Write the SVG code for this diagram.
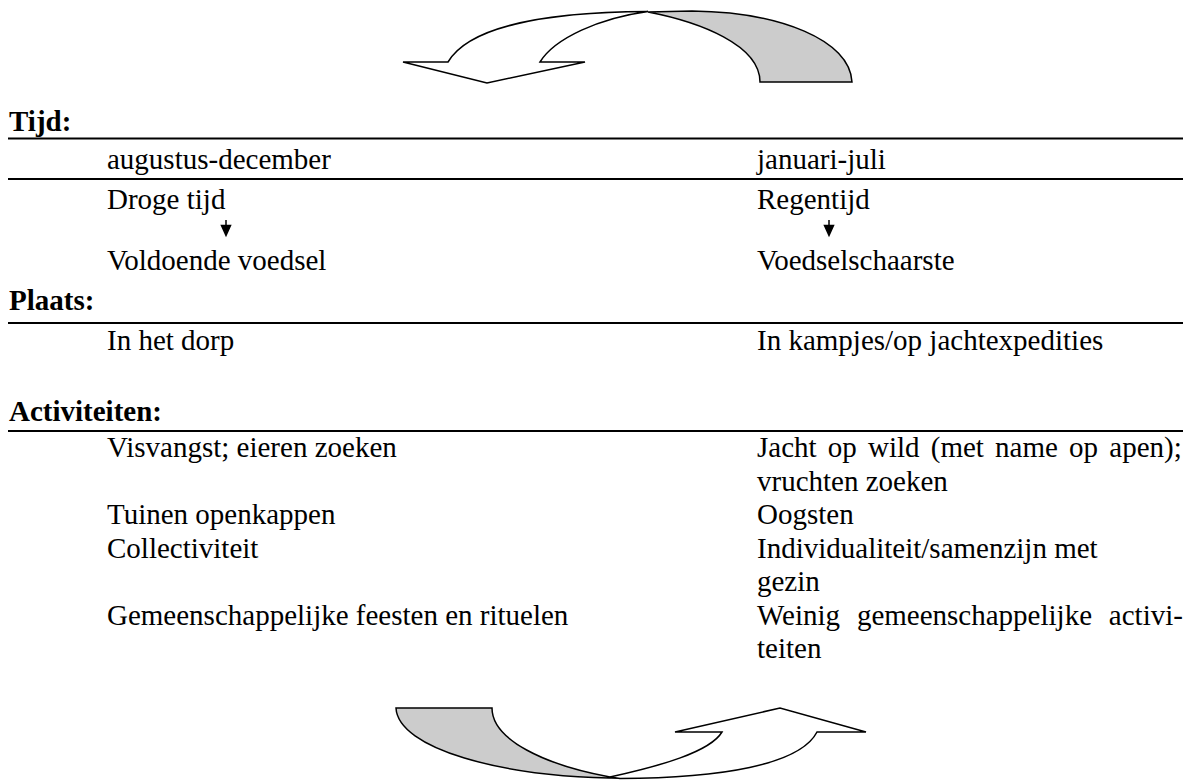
<svg xmlns="http://www.w3.org/2000/svg" width="1192" height="780" viewBox="0 0 1192 780">
<style>
.t{font-family:'Liberation Serif','Times New Roman',Times,serif;font-size:29px;fill:#000}
.b{font-weight:bold}
.rule{stroke:#000;stroke-width:2;fill:none}
.outline{stroke:#000;stroke-width:1.5;stroke-linejoin:miter}
.white{fill:#fff}
.gray{fill:#cccccc}
.small{fill:#000;stroke:#000;stroke-width:1.5}
</style>
<rect width="1192" height="780" fill="#fff"/>
<g id="top-arrow">
<path class="outline gray" d="M648,12 L692,11 C780,12 850,40 852,82 L760,82 C760,45 700,22 648,12 Z"/>
<path class="outline white" d="M403,62 L448,62 C468,28 540,12 648,11.5 C600,18 555,38 540,62 L585,62 L487,83 Z"/>
</g>
<g id="bottom-arrow">
<path class="outline gray" d="M396,708 L492,708 C492,740 545,765 610,777 L625,778 C500,778 398,748 396,708 Z"/>
<path class="outline white" d="M610,777 C660,766 710,752 722,732 L675,732 L780,708 L866,732 L817,732 C800,765 720,778 620,778.5 Z"/>
</g>
<g id="rules">
<line class="rule" x1="8" y1="138.5" x2="1183" y2="138.5"/>
<line class="rule" x1="8" y1="179" x2="1183" y2="179"/>
<line class="rule" x1="8" y1="323" x2="1183" y2="323"/>
<line class="rule" x1="8" y1="431" x2="1183" y2="431"/>
</g>
<g id="connectors">
<path class="small" d="M226,220 V226"/>
<path class="small" d="M221.5,225.5 H230.5 L226,235.5 Z"/>
<path class="small" d="M829,220 V226"/>
<path class="small" d="M824.5,225.5 H833.5 L829,235.5 Z"/>
</g>
<g id="tijd">
<text class="t b" x="9" y="131">Tijd:</text>
<text class="t" x="107" y="168.5">augustus-december</text>
<text class="t" x="757" y="168.5">januari-juli</text>
<text class="t" x="107" y="209">Droge tijd</text>
<text class="t" x="757" y="209">Regentijd</text>
<text class="t" x="107" y="270">Voldoende voedsel</text>
<text class="t" x="757" y="270">Voedselschaarste</text>
</g>
<g id="plaats">
<text class="t b" x="9" y="310">Plaats:</text>
<text class="t" x="107" y="350">In het dorp</text>
<text class="t" x="757" y="350">In kampjes/op jachtexpedities</text>
</g>
<g id="activiteiten">
<text class="t b" x="9" y="421">Activiteiten:</text>
<text class="t" x="107" y="457">Visvangst; eieren zoeken</text>
<text class="t" x="757" y="457" word-spacing="3.95">Jacht op wild (met name op apen);</text>
<text class="t" x="757" y="491">vruchten zoeken</text>
<text class="t" x="107" y="524">Tuinen openkappen</text>
<text class="t" x="757" y="524">Oogsten</text>
<text class="t" x="107" y="558">Collectiviteit</text>
<text class="t" x="757" y="558">Individualiteit/samenzijn met</text>
<text class="t" x="757" y="591">gezin</text>
<text class="t" x="107" y="625">Gemeenschappelijke feesten en rituelen</text>
<text class="t" x="757" y="625" word-spacing="9.6">Weinig gemeenschappelijke activi-</text>
<text class="t" x="757" y="658">teiten</text>
</g>
</svg>
